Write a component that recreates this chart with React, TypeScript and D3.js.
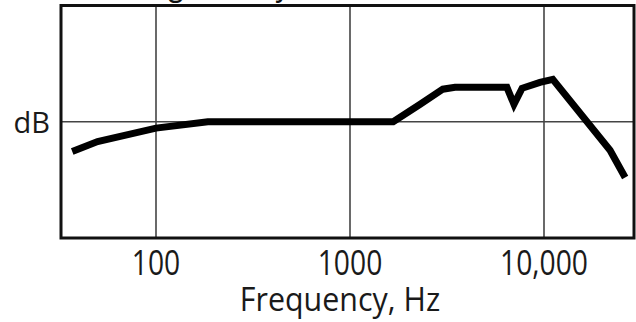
import React from "react";
import * as d3 from "d3";

const freqHz = [37, 50, 100, 185, 1670, 2300, 3010, 3480, 6440, 7000, 7710, 9530, 11100, 21900, 26200];
const responseDb = [-2.55, -1.7, -0.55, 0, 0, 1.5, 2.8, 2.96, 2.96, 1.5, 2.88, 3.39, 3.65, -2.45, -4.8];
const tickValues = [100, 1000, 10000];
const tickLabels = ["100", "1000", "10,000"];
const xTitle = "Frequency, Hz";
const yTitle = "dB";
const topCaption = "Tone: bright, early rolloff";

const W = 636;
const H = 322;
const left = 61;
const right = 634;
const top = 5.5;
const bottom = 238;
const FONT = "'Open Sans', sans-serif";
const SX = 0.83;

export default function App() {
  const x = d3.scaleLog().domain([10 ** (2 - 95 / 194), 10 ** (4 + 90 / 194)]).range([left, right]);
  const y = d3.scaleLinear().domain([-10, 10]).range([bottom, top]);
  const pts: [number, number][] = freqHz.map((f, i) => [f, responseDb[i]]);
  const line = d3
    .line<[number, number]>()
    .x((d) => x(d[0]))
    .y((d) => y(d[1]));
  const path = line(pts) || "";

  return (
    <svg
      width={W}
      height={H}
      style={{ position: "absolute", left: 0, top: 0, display: "block", background: "#fff" }}
    >
      <text
        transform={`translate(52,-5) scale(${SX},1)`}
        fontFamily={FONT}
        fontSize={34}
        fill="#111"
      >
        {topCaption}
      </text>
      {tickValues.map((t) => (
        <line key={"g" + t} x1={x(t)} x2={x(t)} y1={top} y2={bottom} stroke="#444" strokeWidth={1.6} />
      ))}
      <line x1={left} x2={right} y1={y(0)} y2={y(0)} stroke="#444" strokeWidth={1.6} />
      <rect
        x={left}
        y={top}
        width={right - left}
        height={bottom - top}
        fill="none"
        stroke="#111"
        strokeWidth={3}
      />
      <path d={path} fill="none" stroke="#000" strokeWidth={7} strokeLinejoin="miter" strokeMiterlimit={3} />
      {tickValues.map((t, i) => (
        <text
          key={"t" + t}
          transform={`translate(${x(t)},275) scale(${SX},1)`}
          textAnchor="middle"
          fontFamily={FONT}
          fontSize={34}
          fill="#1a1a1a"
        >
          {tickLabels[i]}
        </text>
      ))}
      <text
        transform={`translate(340,311) scale(0.95,1)`}
        textAnchor="middle"
        fontFamily={FONT}
        fontSize={32}
        fill="#1a1a1a"
      >
        {xTitle}
      </text>
      <text
        transform={`translate(50,133) scale(1,1)`}
        textAnchor="end"
        fontFamily={FONT}
        fontSize={29}
        fill="#1a1a1a"
      >
        {yTitle}
      </text>
    </svg>
  );
}
